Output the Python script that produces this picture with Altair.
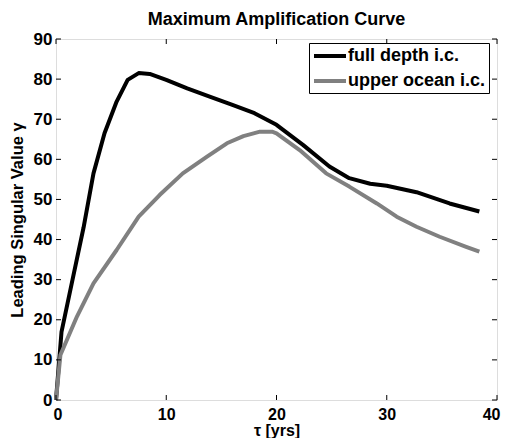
import altair as alt
import pandas as pd

# ---- data ----
tau_full = [0, 0.5, 1.5, 2.5, 3.4, 4.4, 5.5, 6.5, 7.5, 8.5, 10, 11.9, 14, 16, 18,
            20, 22.4, 24.8, 26.6, 28.5, 30, 32.7, 35.7, 38.4]
gamma_full = [0, 17, 30, 43, 56.5, 66.5, 74.4, 79.8, 81.5, 81.3, 79.8, 77.7, 75.6,
              73.6, 71.5, 68.6, 63.6, 58.2, 55.3, 53.9, 53.4, 51.8, 49, 47]
tau_upper = [0, 0.4, 1.9, 3.4, 5.5, 7.5, 9.4, 11.5, 13.7, 15.5, 17, 18.5, 19.6,
             20, 22.1, 24.5, 26.6, 29.1, 30.9, 32.7, 34.8, 37.2, 38.4]
gamma_upper = [0, 11.2, 20.8, 29.1, 37.4, 45.7, 51.1, 56.5, 60.7, 64, 65.8, 66.9,
               66.9, 66.5, 62.3, 56.5, 53.2, 49, 45.7, 43.2, 40.7, 38.2, 37]
series_names = ["full depth i.c.", "upper ocean i.c."]
series_colors = ["#000000", "#808080"]
x_ticks = [0, 10, 20, 30, 40]
y_ticks = [0, 10, 20, 30, 40, 50, 60, 70, 80, 90]

rows = []
for t, g in zip(tau_full, gamma_full):
    rows.append({"tau": t, "gamma": g, "series": series_names[0], "order": len(rows)})
for t, g in zip(tau_upper, gamma_upper):
    rows.append({"tau": t, "gamma": g, "series": series_names[1], "order": len(rows)})
df = pd.DataFrame(rows)
xt = pd.DataFrame({"tau": x_ticks})
yt = pd.DataFrame({"gamma": y_ticks})

FONT = "Liberation Sans"
W, H = 441, 361
TK = 5

xscale = alt.Scale(domain=[0, 40], nice=False, zero=False)
yscale = alt.Scale(domain=[0, 90], nice=False)

xaxis = alt.Axis(values=x_ticks, title="τ [yrs]", grid=False, domain=False, tickSize=0,
                 labelPadding=6, labelFont=FONT, labelFontSize=16, labelFontWeight="bold",
                 labelColor="black", titleFont=FONT, titleFontSize=16, titleFontWeight="bold",
                 titleColor="black", titlePadding=0, labelFlush=True, labelFlushOffset=3)
yaxis = alt.Axis(values=y_ticks, title="Leading Singular Value γ", grid=False, domain=False,
                 tickSize=0, labelPadding=4, labelFont=FONT, labelFontSize=17,
                 labelFontWeight="bold", labelColor="black", titleFont=FONT,
                 titleFontSize=16.5, titleFontWeight="bold", titleColor="black",
                 titlePadding=8, labelFlush=False)

X = alt.X("tau:Q", scale=xscale, axis=xaxis)
Y = alt.Y("gamma:Q", scale=yscale, axis=yaxis)

lines = alt.Chart(df).mark_line(strokeWidth=4, strokeJoin="round", strokeCap="butt").encode(
    x=X,
    y=Y,
    color=alt.Color("series:N", scale=alt.Scale(domain=series_names, range=series_colors),
                    legend=alt.Legend(title=None, orient="none", legendX=253, legendY=4,
                                      symbolType="M-1,0H3", symbolSize=256,
                                      symbolStrokeWidth=4, labelFont=FONT, labelFontSize=18,
                                      labelFontWeight="bold", labelColor="black",
                                      labelOffset=16, rowPadding=6, padding=3,
                                      strokeColor="black", fillColor="white")),
    order="order:Q",
)

ytick_l = alt.Chart(yt).mark_rule(color="black", strokeWidth=1).encode(
    y=Y, x=alt.value(0), x2=alt.value(TK))
ytick_r = alt.Chart(yt).mark_rule(color="black", strokeWidth=1).encode(
    y=Y, x=alt.value(W - TK), x2=alt.value(W))
xtick_b = alt.Chart(xt).mark_rule(color="black", strokeWidth=1).encode(
    x=X, y=alt.value(H), y2=alt.value(H - TK))
xtick_t = alt.Chart(xt).mark_rule(color="black", strokeWidth=1).encode(
    x=X, y=alt.value(0), y2=alt.value(TK))

chart = alt.layer(lines, ytick_l, ytick_r, xtick_b, xtick_t).properties(
    width=W, height=H,
    title=alt.TitleParams("Maximum Amplification Curve", font=FONT, fontSize=18,
                          fontWeight="bold", color="black", anchor="middle", offset=1),
    padding={"left": 48, "top": 31, "right": 4, "bottom": 38},
    autosize="none",
).configure_view(stroke="black", strokeWidth=1.2).configure(background="white")

chart.save("out.html", embed_options={"renderer": "svg", "actions": False})
